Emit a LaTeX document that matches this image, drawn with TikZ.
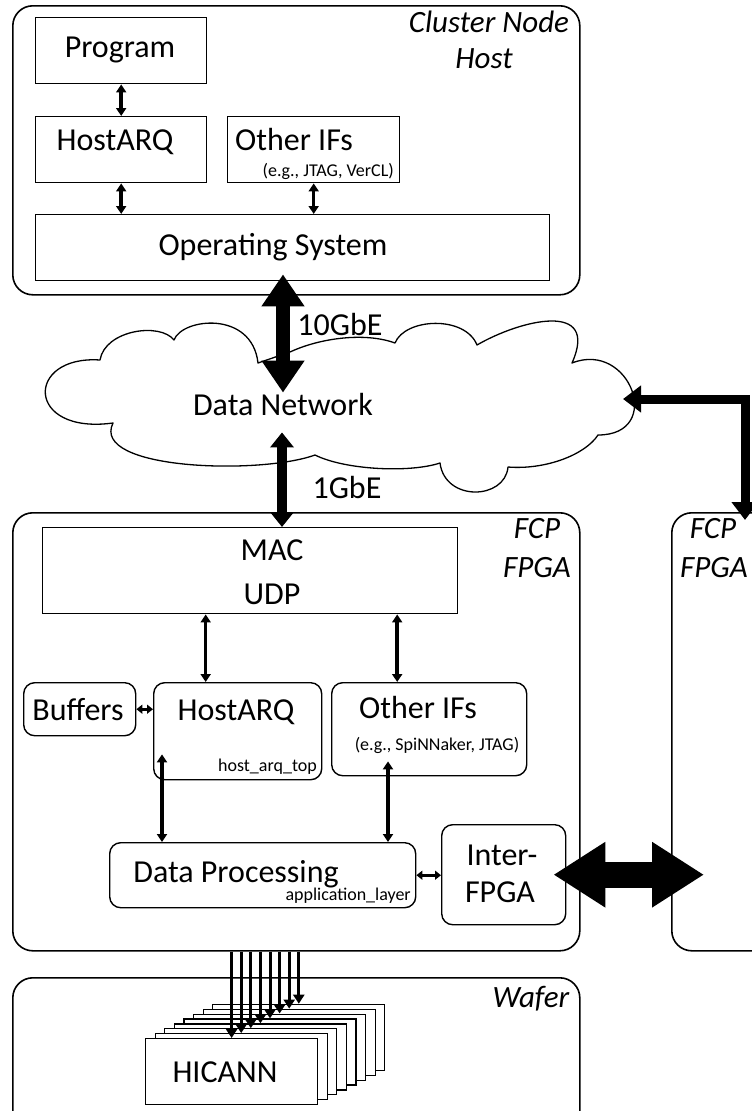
\documentclass[tikz,border=0pt]{standalone}
\usepackage{fontspec}
\setmainfont{Carlito}
\usetikzlibrary{arrows.meta,calc}

\begin{document}
\begin{tikzpicture}[x=1pt,y=-1pt,
  frame/.style={draw,line width=1.6pt,rounded corners=20pt,inner sep=0pt,anchor=north west},
  rbox/.style={draw,fill=white,line width=1.4pt,rounded corners=11pt,inner sep=0pt,anchor=north west},
  sbox/.style={draw,fill=white,line width=1.4pt,inner sep=0pt,anchor=north west},
  big/.style={font=\fontsize{32}{36}\selectfont,inner sep=0pt},
  small/.style={font=\fontsize{18}{20}\selectfont,inner sep=0pt},
  tag/.style={font=\fontsize{31}{36}\selectfont\itshape,inner sep=0pt},
  link/.style={line width=3.5pt,{Triangle[length=8pt,width=10pt]}-{Triangle[length=8pt,width=10pt]}},
  shortlink/.style={line width=3pt,{Triangle[length=6pt,width=9pt]}-{Triangle[length=6pt,width=9pt]}},
  down/.style={line width=3pt,-{Triangle[length=9pt,width=11pt]}},
  tengbe/.style={line width=14pt,{Triangle[length=32pt,width=41pt]}-{Triangle[length=32pt,width=41pt]}},
  onegbe/.style={line width=10pt,{Triangle[length=15pt,width=23pt]}-{Triangle[length=15pt,width=23pt]}},
  uplink/.style={line width=9pt,{Triangle[length=18pt,width=26pt]}-{Triangle[length=18pt,width=26pt]}},
  fpgalink/.style={line width=26pt,{Triangle[length=52pt,width=62pt]}-{Triangle[length=52pt,width=62pt]}},
  cloudline/.style={draw,fill=white,line width=1.3pt,line join=round},
]
\useasboundingbox (0,0) rectangle (752,1111);
\clip (0,0) rectangle (752,1111);

% ---------- cluster node host ----------
\node[frame,minimum width=567pt,minimum height=289pt] (host) at (12,5) {};
\node[tag,anchor=base] (hostlbl1) at (489,32) {Cluster Node};
\node[tag,anchor=base] (hostlbl2) at (484,68) {Host};

\node[sbox,minimum width=171pt,minimum height=66pt] (prog) at (35,17) {};
\node[big,anchor=base] (progtxt) at (120,57) {Program};
\node[sbox,minimum width=171pt,minimum height=66pt] (hqh) at (35,116) {};
\node[big,anchor=base] (hqhtxt) at (115,150) {HostARQ};
\node[sbox,minimum width=172pt,minimum height=66pt] (oifh) at (227,116) {};
\node[big,anchor=base west] (oifhtxt) at (235,150) {Other IFs};
\node[small,anchor=base east] (oifhsub) at (394,176) {(e.g., JTAG, VerCL)};
\node[sbox,minimum width=514pt,minimum height=66pt] (os) at (35,214) {};
\node[big,anchor=base] (ostxt) at (273,255) {Operating System};

\draw[link] (prog.south) -- (hqh.north);
\draw[link] (hqh.south) -- (hqh.south |- os.north);
\draw[link] (oifh.south) -- (oifh.south |- os.north);

% ---------- data network cloud ----------
\path[cloudline]
  (100,360) .. controls (105,330) and (160,322) .. (174,340)
            .. controls (182,318) and (252,310) .. (258,363)
            -- (290,352)
            .. controls (320,338) and (365,332) .. (395,343)
            .. controls (405,318) and (465,315) .. (477,345)
            .. controls (520,320) and (600,300) .. (572,363)
            .. controls (630,340) and (665,435) .. (598,435)
            .. controls (585,455) and (545,470) .. (508,467)
            .. controls (505,500) and (445,502) .. (440,463)
            .. controls (410,473) and (345,470) .. (315,455)
            .. controls (260,475) and (90,470) .. (113,423)
            .. controls (25,435) and (25,355) .. (100,360) -- cycle;
\node[big,anchor=base] (dn) at (283,415) {Data Network};
\coordinate (cloudR) at (623,399);

\coordinate (tenTop) at ($(os.south -| dn.north)+(0,-7)$);
\draw[tengbe] (tenTop) -- (dn.north);
\node[big,anchor=base] (ten) at (340,335) {10GbE};

% ---------- FCP FPGA ----------
\node[frame,minimum width=567pt,minimum height=438pt] (fcp) at (12,512) {};
\node[tag,anchor=base] (fcplbl1) at (537,538) {FCP};
\node[tag,anchor=base] (fcplbl2) at (537,577) {FPGA};

\node[frame,minimum width=240pt,minimum height=438pt] (fcp2) at (671,512) {};
\node[tag,anchor=base] (fcp2lbl1) at (713,538) {FCP};
\node[tag,anchor=base] (fcp2lbl2) at (714,577) {FPGA};

\node[sbox,minimum width=415pt,minimum height=86pt] (mac) at (42,527) {};
\node[big,anchor=base] (mactxt) at (272,560) {MAC};
\node[big,anchor=base] (udptxt) at (272,604) {UDP};

\coordinate (oneTop) at ($(dn.south)+(-1,17)$);
\draw[onegbe] (oneTop) -- (oneTop |- mac.north);
\node[big,anchor=base] (one) at (347,498) {1GbE};

\draw[uplink] (cloudR) -| ($(fcp2.north west)+(74,8)$);

\node[rbox,minimum width=112pt,minimum height=53pt] (buf) at (23,682) {};
\node[big,anchor=base] (buftxt) at (78,720) {Buffers};
\node[rbox,minimum width=168pt,minimum height=97pt] (hqf) at (153,682) {};
\node[big,anchor=base] (hqftxt) at (236,720) {HostARQ};
\node[small,anchor=base east] (hqfsub) at (317,771) {host\_arq\_top};
\node[rbox,minimum width=195pt,minimum height=93pt] (oiff) at (331,682) {};
\node[big,anchor=base] (oifftxt) at (418,718) {Other IFs};
\node[small,anchor=base] (oiffsub) at (437,750) {(e.g., SpiNNaker, JTAG)};
\node[rbox,minimum width=306pt,minimum height=65pt] (dp) at (109,842) {};
\node[big,anchor=base] (dptxt) at (236,882) {Data Processing};
\node[small,anchor=base east] (dpsub) at (411,900) {application\_layer};
\node[rbox,minimum width=124pt,minimum height=100pt] (ifp) at (441,824) {};
\node[big,anchor=base] (ifptxt1) at (502,865) {Inter-};
\node[big,anchor=base] (ifptxt2) at (500,902) {FPGA};

\coordinate (a1) at ($(hqf.north)+(-32,0)$);
\draw[link] (a1 |- mac.south) -- (a1);
\coordinate (a2) at ($(oiff.north)+(-32,0)$);
\draw[link] (a2 |- mac.south) -- (a2);
\draw[shortlink] (buf.east) -- (buf.east -| hqf.west);
\coordinate (a3) at ($(hqf.south west)+(9,-26)$);
\draw[link] (a3) -- (a3 |- dp.north);
\coordinate (a4) at ($(oiff.south west)+(57,-15)$);
\draw[link] (a4) -- (a4 |- dp.north);
\draw[shortlink] (dp.east) -- (dp.east -| ifp.west);

\coordinate (ifpL) at ($(ifp.east)+(-13,0)$);
\coordinate (ifpR) at ($(ifp.east -| fcp2.west)+(33,0)$);
\draw[fpgalink] (ifpL) -- (ifpR);

% ---------- wafer ----------
\node[frame,minimum width=567pt,minimum height=240pt] (wafer) at (12,977) {};
\node[tag,anchor=base] (waferlbl) at (531,1007) {Wafer};

\foreach \i in {7,6,...,0} {
  \node[sbox,line width=1.2pt,minimum width=172pt,minimum height=66pt] (hic\i) at ({145+9.6*\i},{1038-4.9*\i}) {};
}
\node[big,anchor=base] (hictxt) at (225,1082) {HICANN};
\foreach \i in {0,...,7} {
  \draw[down] (fcp.south -| hic\i.north) -- (hic\i.north);
}
\end{tikzpicture}
\end{document}
